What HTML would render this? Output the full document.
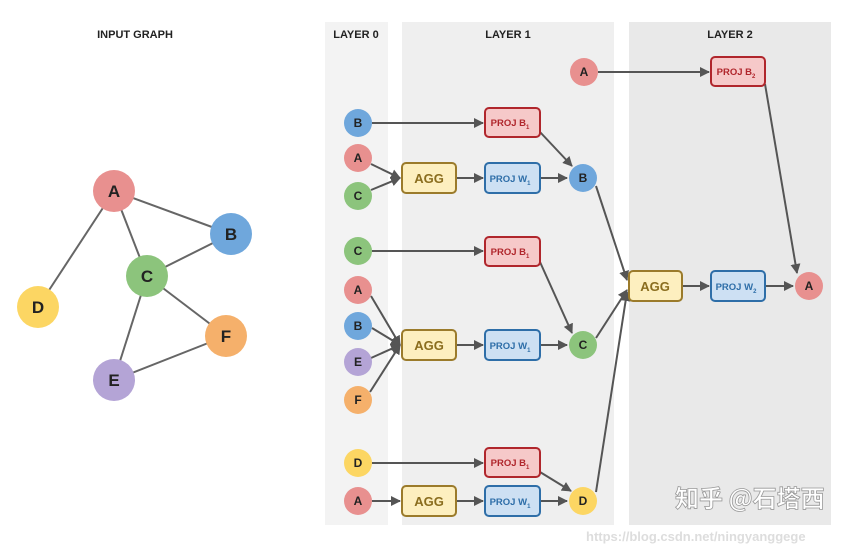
<!DOCTYPE html>
<html><head><meta charset="utf-8"><style>body{margin:0;background:#fff}svg{display:block}text{font-family:"Liberation Sans",sans-serif;font-weight:bold}</style></head><body>
<svg width="842" height="553" viewBox="0 0 842 553" xmlns="http://www.w3.org/2000/svg">
<defs><marker id="ar" viewBox="0 0 10 10" refX="9" refY="5" markerWidth="5" markerHeight="5" orient="auto"><path d="M0,0L10,5L0,10z" fill="#555"/></marker></defs>
<rect x="325" y="22" width="63" height="503" fill="#f3f3f3"/>
<rect x="402" y="22" width="212" height="503" fill="#efefef"/>
<rect x="629" y="22" width="202" height="503" fill="#e9e9e9"/>
<g font-size="11" fill="#222" text-anchor="middle">
<text x="135" y="38">INPUT GRAPH</text><text x="356" y="38">LAYER 0</text><text x="508" y="38">LAYER 1</text><text x="730" y="38">LAYER 2</text></g>
<g stroke="#666" stroke-width="2">
<line x1="114" y1="191" x2="231" y2="234"/><line x1="114" y1="191" x2="147" y2="276"/><line x1="114" y1="191" x2="38" y2="307"/>
<line x1="147" y1="276" x2="231" y2="234"/><line x1="147" y1="276" x2="226" y2="336"/><line x1="147" y1="276" x2="114" y2="380"/><line x1="114" y1="380" x2="226" y2="336"/></g>
<g stroke="#555" stroke-width="2" fill="none" marker-end="url(#ar)">
<line x1="372" y1="123" x2="483" y2="123"/>
<line x1="371" y1="164" x2="400" y2="178"/><line x1="371" y1="190" x2="400" y2="178"/>
<line x1="456" y1="178" x2="483" y2="178"/><line x1="540" y1="178" x2="567" y2="178"/>
<line x1="540" y1="132" x2="572" y2="166"/>
<line x1="372" y1="251" x2="483" y2="251"/>
<line x1="371" y1="296" x2="400" y2="345"/><line x1="372" y1="328" x2="400" y2="345"/><line x1="371" y1="358" x2="400" y2="345"/><line x1="370" y1="392" x2="400" y2="345"/>
<line x1="456" y1="345" x2="483" y2="345"/><line x1="540" y1="345" x2="567" y2="345"/>
<line x1="540" y1="262" x2="572" y2="333"/>
<line x1="372" y1="463" x2="483" y2="463"/>
<line x1="372" y1="501" x2="400" y2="501"/><line x1="456" y1="501" x2="483" y2="501"/><line x1="540" y1="501" x2="567" y2="501"/>
<line x1="540" y1="472" x2="571" y2="491"/>
<line x1="598" y1="72" x2="709" y2="72"/>
<line x1="596" y1="186" x2="627" y2="280"/><line x1="596" y1="338" x2="627" y2="290"/><line x1="596" y1="492" x2="627" y2="292"/>
<line x1="682" y1="286" x2="709" y2="286"/><line x1="765" y1="286" x2="793" y2="286"/>
<line x1="765" y1="84" x2="797" y2="273"/>
</g>
<g font-size="12" text-anchor="middle">
<g fill="#e8908f"><circle cx="114" cy="191" r="21"/><circle cx="358" cy="158" r="14"/><circle cx="358" cy="290" r="14"/><circle cx="358" cy="501" r="14"/><circle cx="584" cy="72" r="14"/><circle cx="809" cy="286" r="14"/></g>
<g fill="#6fa7dc"><circle cx="231" cy="234" r="21"/><circle cx="358" cy="123" r="14"/><circle cx="358" cy="326" r="14"/><circle cx="583" cy="178" r="14"/></g>
<g fill="#8cc47c"><circle cx="147" cy="276" r="21"/><circle cx="358" cy="196" r="14"/><circle cx="358" cy="251" r="14"/><circle cx="583" cy="345" r="14"/></g>
<g fill="#fcd663"><circle cx="38" cy="307" r="21"/><circle cx="358" cy="463" r="14"/><circle cx="583" cy="501" r="14"/></g>
<g fill="#f5b06b"><circle cx="226" cy="336" r="21"/><circle cx="358" cy="400" r="14"/></g>
<g fill="#b4a4d6"><circle cx="114" cy="380" r="21"/><circle cx="358" cy="362" r="14"/></g>
<g fill="#222" font-size="17"><text x="114" y="197">A</text><text x="231" y="240">B</text><text x="147" y="282">C</text><text x="38" y="313">D</text><text x="226" y="342">F</text><text x="114" y="386">E</text></g>
<g fill="#222"><text x="358" y="162">A</text><text x="358" y="294">A</text><text x="358" y="505">A</text><text x="584" y="76">A</text><text x="809" y="290">A</text>
<text x="358" y="127">B</text><text x="358" y="330">B</text><text x="583" y="182">B</text>
<text x="358" y="200">C</text><text x="358" y="255">C</text><text x="583" y="349">C</text>
<text x="358" y="467">D</text><text x="583" y="505">D</text><text x="358" y="404">F</text><text x="358" y="366">E</text></g>
</g>
<g stroke-width="2">
<g fill="#fdefbf" stroke="#9b7b2b"><rect x="402" y="163" width="54" height="30" rx="4"/><rect x="402" y="330" width="54" height="30" rx="4"/><rect x="402" y="486" width="54" height="30" rx="4"/><rect x="629" y="271" width="53" height="30" rx="4"/></g>
<g fill="#f6c9c9" stroke="#b0262c"><rect x="485" y="108" width="55" height="29" rx="4"/><rect x="485" y="237" width="55" height="29" rx="4"/><rect x="485" y="448" width="55" height="29" rx="4"/><rect x="711" y="57" width="54" height="29" rx="4"/></g>
<g fill="#cde0f3" stroke="#2e6ea8"><rect x="485" y="163" width="55" height="30" rx="4"/><rect x="485" y="330" width="55" height="30" rx="4"/><rect x="485" y="486" width="55" height="30" rx="4"/><rect x="711" y="271" width="54" height="30" rx="4"/></g>
</g>
<g text-anchor="middle">
<g fill="#8a6d1e" font-size="13"><text x="429" y="183">AGG</text><text x="429" y="350">AGG</text><text x="429" y="506">AGG</text><text x="655" y="291">AGG</text></g>
<g fill="#b0262c" font-size="9.5"><text x="510" y="126">PROJ B<tspan font-size="6" dy="3">1</tspan></text><text x="510" y="255">PROJ B<tspan font-size="6" dy="3">1</tspan></text><text x="510" y="466">PROJ B<tspan font-size="6" dy="3">1</tspan></text><text x="736" y="75">PROJ B<tspan font-size="6" dy="3">2</tspan></text></g>
<g fill="#2e6ea8" font-size="9.5"><text x="510" y="182">PROJ W<tspan font-size="6" dy="3">1</tspan></text><text x="510" y="349">PROJ W<tspan font-size="6" dy="3">1</tspan></text><text x="510" y="505">PROJ W<tspan font-size="6" dy="3">1</tspan></text><text x="736" y="290">PROJ W<tspan font-size="6" dy="3">2</tspan></text></g>
</g>
<text x="675" y="507" font-size="24" font-weight="normal" fill="#fff" stroke="#999" stroke-width="0.8" style="font-family:'Noto Sans CJK SC',sans-serif">知乎 @石塔西</text>
<text x="586" y="541" font-size="13" font-weight="normal" fill="#ddd">https://blog.csdn.net/ningyanggege</text>
</svg></body></html>
